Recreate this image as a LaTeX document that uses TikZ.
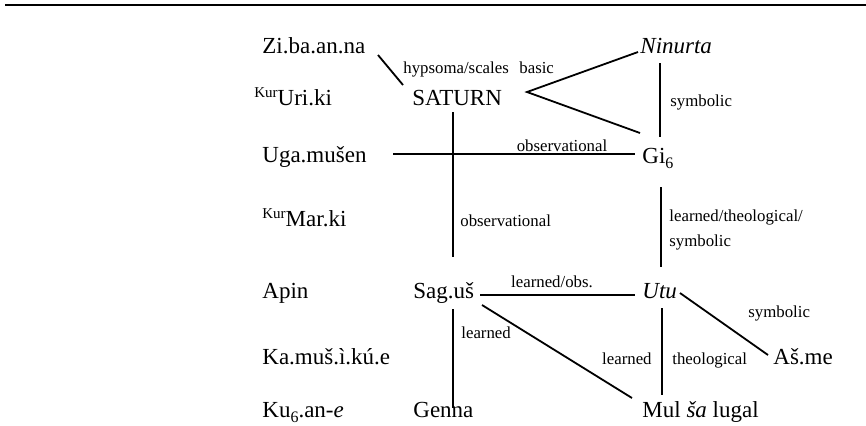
\documentclass[tikz,border=0pt]{standalone}
\usepackage{fontspec}
\setmainfont{Liberation Serif}
\newcommand{\supkur}{\raisebox{4pt}{\fontsize{7.5}{8}\selectfont Kur}}
\newcommand{\subsix}{\raisebox{-2.5pt}{\fontsize{8}{8}\selectfont 6}}
\begin{document}
\begin{tikzpicture}[x=0.5pt,y=-0.5pt,
  every node/.style={inner sep=0pt},
  main/.style={anchor=base west,font=\fontsize{11.5}{13}\selectfont},
  lbl/.style={anchor=base west,font=\fontsize{8.4}{10}\selectfont},
  conn/.style={line width=0.9pt},
  rule/.style={line width=1.1pt}]
\useasboundingbox (0,0) rectangle (866,425);
% top rule
\coordinate (ruleL) at (5,5);
\coordinate (ruleR) at (866,5);
\draw[rule] (ruleL) -- (ruleR);
% left column
\node[main] (zi) at (262,53) {Zi.ba.an.na};
\node[main] (uri) at (254,105) {\supkur Uri.ki};
\node[main] (uga) at (262,162) {Uga.mušen};
\node[main] (mar) at (262,226) {\supkur Mar.ki};
\node[main] (apin) at (262,298) {Apin};
\node[main] (kamus) at (262,364) {Ka.muš.ì.kú.e};
\node[main] (ku) at (262,417) {Ku\subsix.an-\textit{e}};
% middle column
\node[main] (sat) at (412,105) {SATURN};
\node[main] (sag) at (413,298) {Sag.uš};
\node[main] (genna) at (413,417) {Genna};
% right column
\node[main] (nin) at (640,53) {\textit{Ninurta}};
\node[main] (gi) at (642,163) {Gi\subsix};
\node[main] (utu) at (642,298) {\textit{Utu}};
\node[main] (asme) at (773,364) {Aš.me};
\node[main] (mul) at (642,417) {Mul \textit{ša} lugal};
% connector ends
\coordinate (zi-e) at (378,55);
\coordinate (sat-nw) at (403,85);
\coordinate (sat-e) at (527,92);
\coordinate (nin-sw) at (638,52);
\coordinate (gi-nw) at (640,133);
\coordinate (nin-s) at (660,63);
\coordinate (gi-n) at (660,137);
\coordinate (sat-s) at (453,112);
\coordinate (sag-n) at (453,257);
\coordinate (uga-e) at (393,154);
\coordinate (gi-w) at (635,154);
\coordinate (gi-s) at (661,187);
\coordinate (utu-n) at (661,267);
\coordinate (sag-e) at (480,295);
\coordinate (utu-w) at (635,295);
\coordinate (sag-s) at (453,309);
\coordinate (genna-n) at (453,408);
\coordinate (sag-se) at (482,305);
\coordinate (mul-nw) at (632,398);
\coordinate (utu-s) at (662,308);
\coordinate (mul-n) at (662,395);
\coordinate (utu-e) at (680,293);
\coordinate (asme-w) at (768,355);
% connectors
\draw[conn] (zi-e) -- (sat-nw);
\draw[conn] (nin-sw) -- (sat-e) -- (gi-nw);
\draw[conn] (nin-s) -- (gi-n);
\draw[conn] (sat-s) -- (sag-n);
\draw[conn] (uga-e) -- (gi-w);
\draw[conn] (gi-s) -- (utu-n);
\draw[conn] (sag-e) -- (utu-w);
\draw[conn] (sag-s) -- (genna-n);
\draw[conn] (sag-se) -- (mul-nw);
\draw[conn] (utu-s) -- (mul-n);
\draw[conn] (utu-e) -- (asme-w);
% labels
\node[lbl] (l1) at (403,73) {hypsoma/scales};
\node[lbl] (l2) at (519,73) {basic};
\node[lbl] (l3) at (670,106) {symbolic};
\node[lbl,anchor=base] (l4) at (562,151) {observational};
\node[lbl] (l5) at (460,226) {observational};
\node[lbl] (l6) at (669,221) {learned/theological/};
\node[lbl] (l7) at (669,246) {symbolic};
\node[lbl,anchor=base] (l8) at (552,287) {learned/obs.};
\node[lbl] (l9) at (461,338) {learned};
\node[lbl,anchor=base east] (l10) at (652,364) {learned};
\node[lbl] (l11) at (672,364) {theological};
\node[lbl] (l12) at (748,317) {symbolic};
\end{tikzpicture}
\end{document}
